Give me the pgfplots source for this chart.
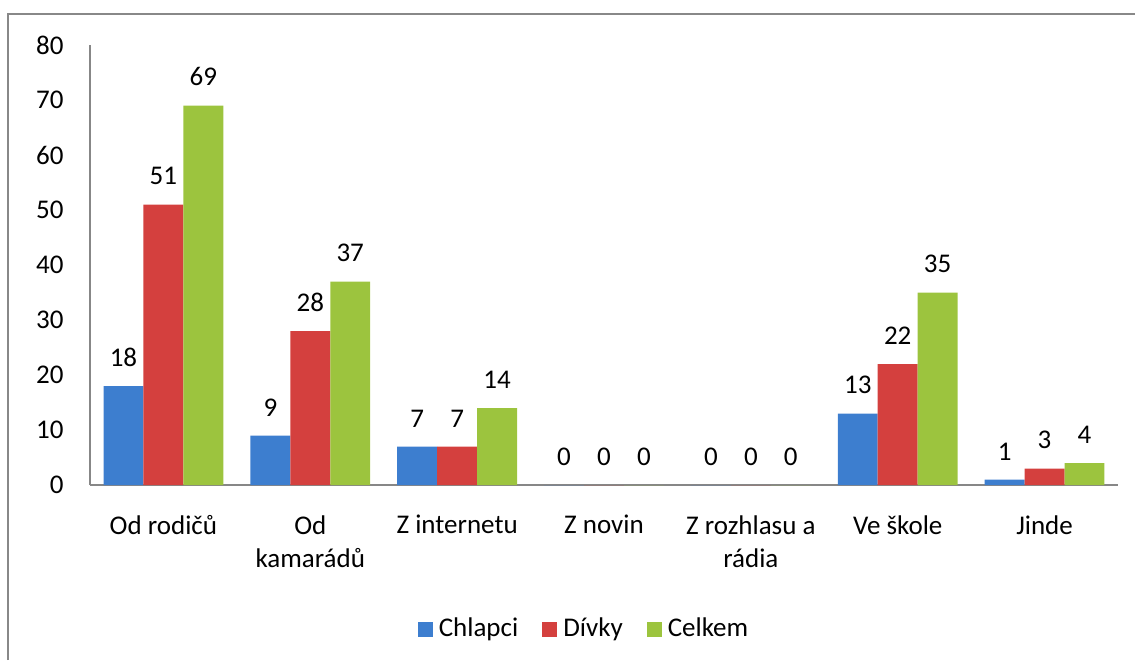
\documentclass[border=0pt]{standalone}
\usepackage{fontspec}
\setmainfont{Carlito}
\usepackage{pgfplots}
\pgfplotsset{compat=1.18}
\definecolor{bluM}{HTML}{3D7ECF}
\definecolor{bluD}{HTML}{2C64AC}
\definecolor{redM}{HTML}{D4403E}
\definecolor{redD}{HTML}{A82E2C}
\definecolor{grnM}{HTML}{9CC43E}
\definecolor{grnD}{HTML}{78A02C}
\definecolor{frame}{HTML}{888888}
\begin{document}
\fontsize{13.5pt}{16.5pt}\selectfont
\begin{tikzpicture}
\path[use as bounding box] (0,0) rectangle (567.5pt,330pt);
\begin{axis}[
  at={(45pt,87.5pt)}, anchor=south west,
  scale only axis, width=514pt, height=220pt,
  ymin=0, ymax=80, ytick={0,10,...,80},
  xmin=-0.5, xmax=6.5,
  xtick={0,...,6},
  xticklabels={Od rodičů, Od\\kamarádů, Z internetu, Z novin, Z rozhlasu a\\rádia, Ve škole, Jinde},
  axis x line*=bottom, axis y line*=left,
  axis line style={draw=black!47, line width=0.6pt, -},
  major tick length=0pt,
  ybar, bar width=0.272,
  enlarge x limits=false,
  tick label style={font=\fontsize{13.5pt}{16.5pt}\selectfont},
  /pgf/number format/assume math mode=true,
  yticklabel style={inner sep=0pt, xshift=-13pt},
  xticklabel style={inner sep=0pt, yshift=-15pt, align=center, anchor=north},
  nodes near coords,
  nodes near coords style={anchor=south, inner sep=0pt, yshift=9.5pt, text=black, font=\fontsize{13.5pt}{16.5pt}\selectfont, /pgf/number format/assume math mode=true},
  legend columns=-1,
  legend style={at={(0.4815,-0.3273)}, anchor=center, draw=none, fill=none,
    font=\fontsize{13.5pt}{16.5pt}\selectfont,
    /tikz/every odd column/.append style={column sep=1pt},
    /tikz/every even column/.append style={column sep=10pt}},
  legend image code/.code={\path[#1] (0pt,-3.75pt) rectangle (7.5pt,3.75pt);},
]
\addplot[fill=bluM, draw=none, bar shift=-0.272] coordinates {(0,18) (1,9) (2,7) (3,0) (4,0) (5,13) (6,1)};
\addplot[fill=redM, draw=none, bar shift=0] coordinates {(0,51) (1,28) (2,7) (3,0) (4,0) (5,22) (6,3)};
\addplot[fill=grnM, draw=none, bar shift=0.272] coordinates {(0,69) (1,37) (2,14) (3,0) (4,0) (5,35) (6,4)};
\legend{Chlapci, Dívky, Celkem}
\end{axis}
\draw[frame, line width=1pt] (4pt,0) -- (4pt,323pt) -- (567.5pt,323pt);
\end{tikzpicture}
\end{document}
